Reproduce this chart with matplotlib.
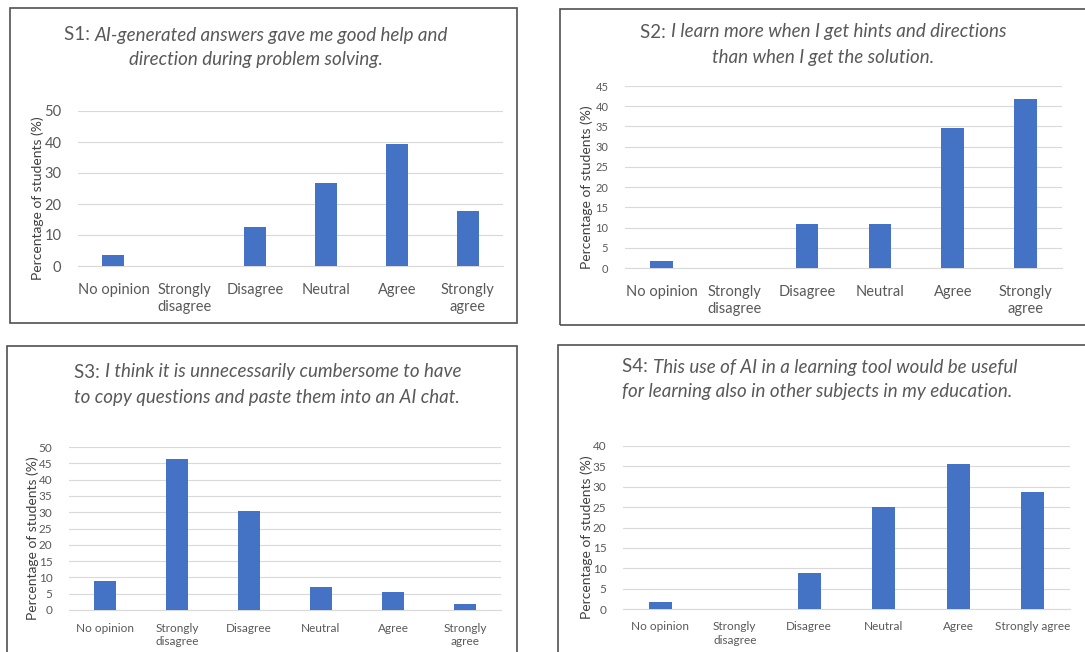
import numpy as np
import matplotlib.pyplot as plt
from matplotlib.patches import Rectangle

# survey answers, percentage of students
cats = ['No opinion', 'Strongly\ndisagree', 'Disagree', 'Neutral', 'Agree', 'Strongly\nagree']
cats_s4 = ['No opinion', 'Strongly\ndisagree', 'Disagree', 'Neutral', 'Agree', 'Strongly agree']

s1_vals = [3.6, 0, 12.5, 26.8, 39.3, 17.9]
s2_vals = [1.8, 0, 10.9, 10.9, 34.5, 41.8]
s3_vals = [8.9, 46.4, 30.4, 7.1, 5.4, 1.8]
s4_vals = [1.8, 0, 8.9, 25.0, 35.7, 28.6]

s1_ticks = [0, 10, 20, 30, 40, 50]
s2_ticks = [0, 5, 10, 15, 20, 25, 30, 35, 40, 45]
s3_ticks = [0, 5, 10, 15, 20, 25, 30, 35, 40, 45, 50]
s4_ticks = [0, 5, 10, 15, 20, 25, 30, 35, 40]

s1_title = ['S1: ', 'AI-generated answers gave me good help and', 'direction during problem solving.']
s2_title = ['S2: ', 'I learn more when I get hints and directions', 'than when I get the solution.']
s3_title = ['S3: ', 'I think it is unnecessarily cumbersome to have', 'to copy questions and paste them into an AI chat.']
s4_title = ['S4: ', 'This use of AI in a learning tool would be useful', 'for learning also in other subjects in my education.']

W, H = 1085, 652
BAR = '#4472C4'
GREY = '#595959'
FONT = 'Lato'

plt.rcParams['font.family'] = FONT

fig = plt.figure(figsize=(W / 100, H / 100), dpi=100)
rend = fig.canvas.get_renderer()


def px(x, y):
  return x / W, 1 - y / H


def box(x0, y0, x1, y1):
  fig.patches.append(Rectangle(px(x0, y1), (x1 - x0) / W, (y1 - y0) / H,
                               transform=fig.transFigure, fill=False,
                               edgecolor='#505050', linewidth=1.2))


def title(parts, x, y1, y2, align, size):
  # first line: upright "Sx: " followed by italic text
  a = fig.text(0, 0, parts[0], fontsize=size, color=GREY)
  b = fig.text(0, 0, parts[1], fontsize=size, color=GREY, style='italic')
  c = fig.text(0, 0, parts[2], fontsize=size, color=GREY, style='italic')
  wa = a.get_window_extent(rend).width
  wb = b.get_window_extent(rend).width
  wc = c.get_window_extent(rend).width
  if align == 'center':
    start1 = x - (wa + wb) / 2
    start2 = x - wc / 2
  else:
    start1 = x
    start2 = x
  for t, xx, yy in [(a, start1, y1), (b, start1 + wa, y1), (c, start2, y2)]:
    t.set_position(px(xx, yy))
    t.set_va('center')


def panel(vals, labels, ticks, rect, xsize, ysize, ylab_x, xpad):
  x0, ytop, x1, ybot = rect
  ax = fig.add_axes([x0 / W, 1 - ybot / H, (x1 - x0) / W, (ybot - ytop) / H])
  pos = np.arange(len(vals))
  ax.bar(pos, vals, width=0.31, color=BAR, zorder=3)
  ax.set_xlim(-0.5, len(vals) - 0.5)
  ax.set_ylim(0, ticks[-1])
  ax.set_yticks(ticks)
  ax.set_xticks(pos)
  ax.set_xticklabels(labels, fontsize=xsize, color=GREY, linespacing=1.3)
  ax.tick_params(axis='y', labelsize=ysize, colors=GREY, length=0, pad=12)
  ax.tick_params(axis='x', length=0, pad=xpad)
  ax.grid(axis='y', color='#d9d9d9', linewidth=0.8, zorder=0)
  for s in ['top', 'right', 'left']:
    ax.spines[s].set_visible(False)
  ax.spines['bottom'].set_color('#d9d9d9')
  fig.text(*px(ylab_x, (ytop + ybot) / 2 + 10), 'Percentage of students (%)',
           rotation=90, ha='center', va='center', fontsize=10, color='#404040')
  return ax


box(10, 8, 517, 323)
box(560, 9, 1095, 325)
box(7, 346, 517, 662)
box(558, 345, 1095, 662)

panel(s1_vals, cats, s1_ticks, (78, 111, 503, 266), 10.5, 10.5, 38, 12)
panel(s2_vals, cats, s2_ticks, (625, 86, 1062, 268), 10.5, 8, 587, 12)
panel(s3_vals, cats, s3_ticks, (69, 447, 501, 610), 8.5, 8.5, 33, 9)
panel(s4_vals, cats_s4, s4_ticks, (623, 446, 1070, 609), 8.5, 8.5, 587, 9)

title(s1_title, 256, 35, 60, 'center', 13.5)
title(s2_title, 823, 32, 57, 'center', 13.5)
title(s3_title, 74, 372, 397, 'left', 13.5)
title(s4_title, 622, 367, 392, 'left', 13.5)

plt.savefig('out.png', dpi=100)
